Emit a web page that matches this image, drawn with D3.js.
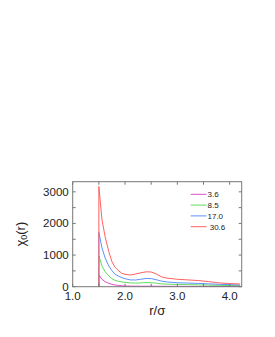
<!DOCTYPE html>
<html>
<head>
<meta charset="utf-8">
<script src="https://cdn.jsdelivr.net/npm/d3@7"></script>
<style>
body{margin:0;background:#fff;}
text{font-family:"Liberation Sans",Arial,sans-serif;}
</style>
</head>
<body>
<script>
// values
var rValues=[1.5,1.56,1.62,1.69,1.75,1.81,1.88,1.94,2.0,2.1,2.2,2.3,2.4,2.5,2.6,2.7,2.8,3.0,3.2,3.4,3.6,3.8,4.0,4.2];
var chi36=[370,234,158,107,75,54,40,30,22,18,16,15,15,15,14,13,12,11,10,10,9,8,8,8];
var chi85=[970,655,475,339,253,200,170,150,139,120,115,120,130,128,110,90,80,72,65,60,50,42,36,32];
var chi170=[1720,1225,908,655,506,392,330,285,253,215,212,235,260,255,220,175,150,125,115,105,90,75,65,55];
var chi306=[3170,2110,1580,1110,790,614,500,424,392,370,400,440,470,465,400,310,270,235,215,195,160,120,100,85];
var seriesNames=["3.6","8.5","17.0"," 30.6"];
var seriesColors=["#e050c8","#60dd60","#6090ff","#ff6060"];
var xTickLabels=["1.0","2.0","3.0","4.0"];
var yTickLabels=[0,1000,2000,3000];

var allSeries=[chi36,chi85,chi170,chi306];

var svg=d3.select('body').append('svg')
    .attr('width',275)
    .attr('height',337);

var pLeft=72.7,pRight=241.7,pTop=181.7,pBottom=286.7;

var x=d3.scaleLinear().domain([1.0,4.23]).range([pLeft,pRight]);
var y=d3.scaleLinear().domain([0,3320]).range([pBottom,pTop]);

// curves, each starting from zero at r=1.5
var line=d3.line()
    .x(function(d){return x(d[0])})
    .y(function(d){return y(d[1])});

allSeries.forEach(function(s,i){
  var pts=[[rValues[0],0]].concat(rValues.map(function(r,j){return [r,s[j]]}));
  svg.append("path").attr("d",line(pts))
     .attr("fill","none")
     .attr("stroke",seriesColors[i])
     .attr("stroke-width",1);
});

// frame
svg.append("rect")
   .attr("x",pLeft).attr("y",pTop)
   .attr("width",pRight-pLeft).attr("height",pBottom-pTop)
   .attr("fill","none").attr("stroke","#777").attr("stroke-width",1);

// inner ticks on all sides
var xt=d3.range(1.0,4.21,0.5);
var yt=d3.range(0,3301,500);
var tk=svg.append("g").attr("stroke","#777").attr("stroke-width",1);
xt.forEach(function(v){
  tk.append("line").attr("x1",x(v)).attr("x2",x(v)).attr("y1",pBottom).attr("y2",pBottom-3);
  tk.append("line").attr("x1",x(v)).attr("x2",x(v)).attr("y1",pTop).attr("y2",pTop+3);
});
yt.forEach(function(v){
  tk.append("line").attr("x1",pLeft).attr("x2",pLeft+3).attr("y1",y(v)).attr("y2",y(v));
  tk.append("line").attr("x1",pRight).attr("x2",pRight-3).attr("y1",y(v)).attr("y2",y(v));
});

// tick labels
svg.selectAll(".xl").data(xTickLabels).enter().append("text")
   .attr("x",function(d){return x(+d)})
   .attr("y",pBottom+13)
   .attr("text-anchor","middle")
   .attr("font-size",11.5)
   .attr("fill","#222")
   .text(function(d){return d});

svg.selectAll(".yl").data(yTickLabels).enter().append("text")
   .attr("x",pLeft-4)
   .attr("y",function(d){return y(d)+4})
   .attr("text-anchor","end")
   .attr("font-size",11.5)
   .attr("fill","#222")
   .text(function(d){return d});

// axis titles
svg.append("text")
   .attr("x",(pLeft+pRight)/2)
   .attr("y",315)
   .attr("text-anchor","middle")
   .attr("font-size",13)
   .attr("fill","#222")
   .text("r/σ");

var yt2=svg.append("text")
   .attr("transform","translate(25,"+((pTop+pBottom)/2)+") rotate(-90)")
   .attr("text-anchor","middle")
   .attr("font-size",13)
   .attr("fill","#222");
yt2.append("tspan").text("χ");
yt2.append("tspan").attr("font-size",9).attr("dy",2).text("0");
yt2.append("tspan").attr("dy",-2).text("(r)");

// legend
var lg=svg.append("g");
seriesNames.forEach(function(n,i){
  var ly=194.3+i*10.8;
  lg.append("line").attr("x1",190.7).attr("x2",206.5).attr("y1",ly).attr("y2",ly)
    .attr("stroke",seriesColors[i]).attr("stroke-width",1);
  lg.append("text").attr("x",207.5).attr("y",ly+3).attr("font-size",8)
    .attr("fill","#222").style("white-space","pre").text(n);
});
</script>
</body>
</html>
